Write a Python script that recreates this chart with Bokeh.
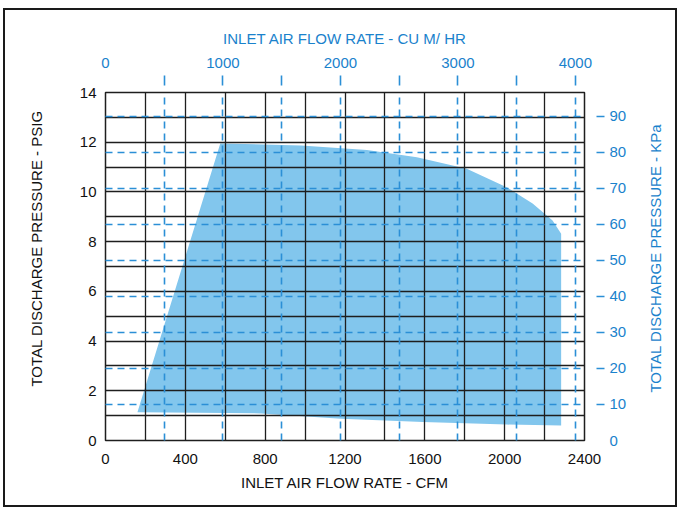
import math
from bokeh.plotting import figure
from bokeh.models import (LinearAxis, Range1d, FixedTicker, Grid)
from bokeh.embed import file_html
from bokeh.resources import INLINE

# ---- data ----
cfm_ticks = [0, 400, 800, 1200, 1600, 2000, 2400]
psig_ticks = [0, 2, 4, 6, 8, 10, 12, 14]
cmh_label_ticks = [0, 1000, 2000, 3000, 4000]
cmh_grid_ticks = [500, 1000, 1500, 2000, 2500, 3000, 3500, 4000]
kpa_label_ticks = [0, 10, 20, 30, 40, 50, 60, 70, 80, 90]
kpa_grid_ticks = [10, 20, 30, 40, 50, 60, 70, 80, 90]

# operating envelope (CFM, PSIG)
env_cfm = [160, 575, 980, 1310, 1560, 1810, 2010, 2140, 2240, 2283,
           2283, 2010, 1590, 1180, 780]
env_psig = [1.14, 11.95, 11.87, 11.69, 11.40, 10.93, 10.19, 9.53, 8.85, 8.32,
            0.60, 0.64, 0.74, 0.87, 1.09]

# axis titles and where (in PSIG) the vertical titles begin / end
left_title = "TOTAL DISCHARGE PRESSURE - PSIG"
right_title = "TOTAL DISCHARGE PRESSURE - KPa"
left_title_at = 13.28
right_title_at = 1.93

CFM_TO_CMH = 1.699
PSI_TO_KPA = 6.895

FONT = "Liberation Sans"
BLUE_TXT = "#1a82cc"
BLUE_LN = "#2b8fd6"
FILL = "#82c6ed"
DARK = "#1e1e1e"
FS = "15px"

p = figure(width=670, height=495, output_backend="svg", toolbar_location=None,
           x_range=Range1d(0, 2400), y_range=Range1d(0, 14),
           min_border_left=100, min_border_top=82, min_border_right=90,
           min_border_bottom=65)
p.extra_x_ranges = {"cmh": Range1d(0, 2400 * CFM_TO_CMH)}
p.extra_y_ranges = {"kpa": Range1d(0, 14 * PSI_TO_KPA)}
p.styles = {"outline": "2px solid #1a1a1a", "outline-offset": "0px",
            "margin-left": "5px", "margin-top": "10px"}

p.outline_line_color = DARK
p.outline_line_width = 1.5
p.background_fill_color = "white"
p.border_fill_color = "white"

# envelope
p.patch(env_cfm, env_psig, fill_color=FILL, line_color=None)

# black grid
p.xgrid.ticker = FixedTicker(ticks=list(range(0, 2401, 200)))
p.ygrid.ticker = FixedTicker(ticks=list(range(0, 15, 1)))
for g in (p.xgrid[0], p.ygrid[0]):
    g.grid_line_color = DARK
    g.grid_line_width = 1.3
    g.grid_line_alpha = 1.0
    g.level = "overlay"

# blue dashed grid
vg = Grid(dimension=0, x_range_name="cmh", ticker=FixedTicker(ticks=cmh_grid_ticks),
          grid_line_color=BLUE_LN, grid_line_width=1.6, grid_line_dash="7 5",
          level="overlay")
hg = Grid(dimension=1, y_range_name="kpa", ticker=FixedTicker(ticks=kpa_grid_ticks),
          grid_line_color=BLUE_LN, grid_line_width=1.6, grid_line_dash="7 5",
          level="overlay")
p.add_layout(vg)
p.add_layout(hg)

# bottom axis
xa = p.xaxis[0]
xa.ticker = FixedTicker(ticks=cfm_ticks)
xa.axis_label = "INLET AIR FLOW RATE - CFM"
# left axis
ya = p.yaxis[0]
ya.ticker = FixedTicker(ticks=psig_ticks)
for a in (xa, ya):
    a.axis_line_color = None
    a.major_tick_line_color = None
    a.minor_tick_line_color = None
    a.major_tick_out = 0
    a.major_tick_in = 0
    a.major_label_text_font = FONT
    a.major_label_text_font_size = FS
    a.major_label_text_color = "#111111"
    a.axis_label_text_font = FONT
    a.axis_label_text_font_size = FS
    a.axis_label_text_font_style = "normal"
    a.axis_label_text_color = "#111111"
xa.major_label_standoff = 13
xa.axis_label_standoff = 7
ya.major_label_standoff = 9

# top axis: labels on major ticks, blue marks on minor ticks
top_ax = LinearAxis(x_range_name="cmh",
                    ticker=FixedTicker(ticks=cmh_label_ticks, minor_ticks=cmh_grid_ticks),
                    axis_line_color=None,
                    major_tick_line_color=None, major_tick_in=-7, major_tick_out=17,
                    minor_tick_line_color=BLUE_LN, minor_tick_line_width=1.6,
                    minor_tick_in=-7, minor_tick_out=17,
                    major_label_standoff=8,
                    major_label_text_font=FONT, major_label_text_font_size=FS,
                    major_label_text_color=BLUE_TXT,
                    axis_label="INLET AIR FLOW RATE - CU M/ HR",
                    axis_label_text_font=FONT, axis_label_text_font_size=FS,
                    axis_label_text_font_style="normal",
                    axis_label_text_color=BLUE_TXT, axis_label_standoff=8)
p.add_layout(top_ax, "above")

# right axis
r_ax = LinearAxis(y_range_name="kpa",
                  ticker=FixedTicker(ticks=kpa_label_ticks, minor_ticks=kpa_grid_ticks),
                  axis_line_color=None,
                  major_tick_line_color=None, major_tick_in=-12, major_tick_out=20,
                  minor_tick_line_color=BLUE_LN, minor_tick_line_width=1.6,
                  minor_tick_in=-12, minor_tick_out=20,
                  major_label_standoff=5,
                  major_label_text_font=FONT, major_label_text_font_size=FS,
                  major_label_text_color=BLUE_TXT)
p.add_layout(r_ax, "right")


def title_axis(at, text, color, standoff):
    return LinearAxis(ticker=FixedTicker(ticks=[at]),
                      major_label_overrides={at: text},
                      major_label_orientation=math.pi / 2,
                      axis_line_color=None, major_tick_line_color=None,
                      minor_tick_line_color=None, major_tick_in=0, major_tick_out=0,
                      major_label_standoff=standoff,
                      major_label_text_font=FONT, major_label_text_font_size=FS,
                      major_label_text_color=color)


p.add_layout(title_axis(left_title_at, left_title, "#111111", 40), "left")
p.add_layout(title_axis(right_title_at, right_title, BLUE_TXT, 26), "right")

open("out.html", "w").write(file_html(p, INLINE))
